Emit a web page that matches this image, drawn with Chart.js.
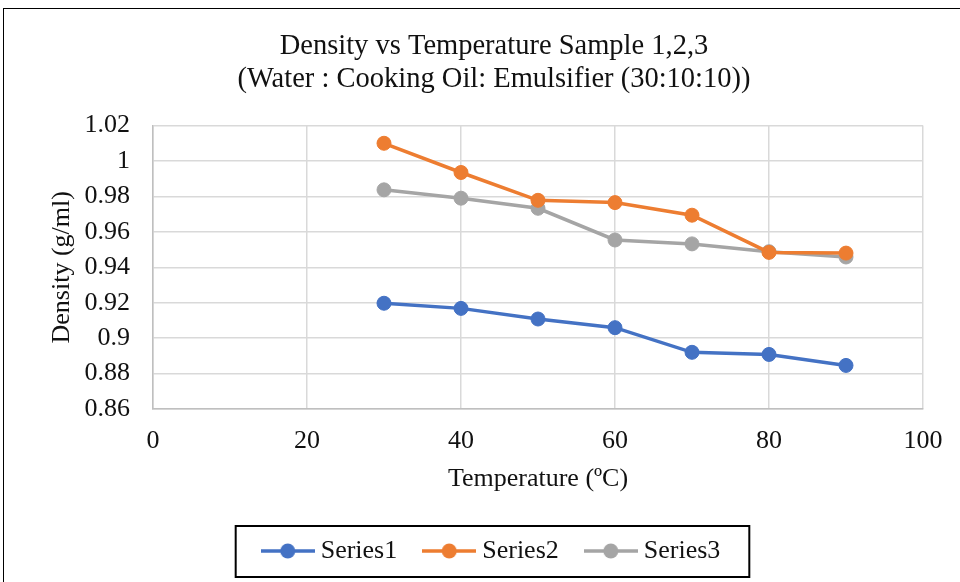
<!DOCTYPE html>
<html>
<head>
<meta charset="utf-8">
<script src="https://cdn.jsdelivr.net/npm/chart.js@4.4.0/dist/chart.umd.min.js"></script>
<style>
  html, body { margin: 0; padding: 0; background: #fff; }
  #wrap { position: relative; width: 960px; height: 582px; overflow: hidden; }
  #frame { position: absolute; left: 3px; top: 8px; width: 1000px; height: 1000px; border: 1.5px solid #000; box-sizing: border-box; }
  canvas { position: absolute; left: 0; top: 0; }
</style>
</head>
<body>
<div id="wrap">
  <div id="frame"></div>
  <canvas id="lineChart" width="960" height="582"></canvas>
</div>
<script>
// temperatures (ºC) and densities (g/ml)
const temps = [30, 40, 50, 60, 70, 80, 90];
const series1 = [0.9197, 0.9168, 0.9108, 0.9059, 0.8920, 0.8908, 0.8846];
const series2 = [1.0100, 0.9935, 0.9778, 0.9765, 0.9694, 0.9484, 0.9480];
const series3 = [0.9837, 0.9790, 0.9733, 0.9554, 0.9532, 0.9488, 0.9458];
const seriesNames = ['Series1', 'Series2', 'Series3'];
const seriesColors = ['#4472C4', '#ED7D31', '#A5A5A5'];
const xTicks = [0, 20, 40, 60, 80, 100];
const yTicks = [0.86, 0.88, 0.9, 0.92, 0.94, 0.96, 0.98, 1, 1.02];

const serif = "'Liberation Serif', 'Times New Roman', serif";
const textColor = '#111';

// little line + dot picture used as the legend symbol
function makeSymbol(color) {
  const c = document.createElement('canvas');
  c.width = 54;
  c.height = 16;
  const g = c.getContext('2d');
  g.strokeStyle = color;
  g.lineWidth = 3.5;
  g.beginPath();
  g.moveTo(0, 8);
  g.lineTo(54, 8);
  g.stroke();
  g.fillStyle = color;
  g.beginPath();
  g.arc(27, 8, 7.5, 0, 2 * Math.PI);
  g.fill();
  return c;
}
const symbols = seriesColors.map(makeSymbol);

// box round the legend
const legendFrame = {
  id: 'legendFrame',
  afterDraw(chart) {
    const boxes = chart.legend.legendHitBoxes;
    if (!boxes || !boxes.length) return;
    const first = boxes[0];
    const last = boxes[boxes.length - 1];
    const cy = first.top + first.height / 2;
    const left = first.left - 32;
    const right = last.left + last.width + 29;
    const ctx = chart.ctx;
    ctx.save();
    ctx.strokeStyle = '#000';
    ctx.lineWidth = 2;
    ctx.strokeRect(left, cy - 25, right - left, 51);
    ctx.restore();
  }
};

const allSeries = [series1, series2, series3];

const ctx = document.getElementById('lineChart').getContext('2d');
new Chart(ctx, {
  type: 'line',
  data: {
    datasets: allSeries.map((vals, i) => ({
      label: seriesNames[i],
      data: temps.map((t, j) => ({ x: t, y: vals[j] })),
      borderColor: seriesColors[i],
      backgroundColor: seriesColors[i],
      borderWidth: 3.5,
      pointRadius: 7,
      pointBorderWidth: 1,
      pointStyle: 'circle',
      tension: 0,
      fill: false
    }))
  },
  options: {
    responsive: false,
    animation: false,
    devicePixelRatio: 1,
    layout: { padding: { left: 65, right: 37, top: 30, bottom: 8 } },
    scales: {
      x: {
        type: 'linear',
        min: 0,
        max: 100,
        afterBuildTicks: s => { s.ticks = xTicks.map(v => ({ value: v })); },
        afterFit: s => { s.height = 97; },
        ticks: { font: { family: serif, size: 26 }, color: textColor, padding: 17 },
        grid: { color: '#d9d9d9', lineWidth: 1.5, drawTicks: false },
        border: { color: '#bfbfbf', width: 1.5 },
        title: {
          display: true,
          text: 'Temperature (ºC)',
          font: { family: serif, size: 26 },
          color: textColor,
          padding: { top: 0, bottom: 11 }
        }
      },
      y: {
        min: 0.86,
        max: 1.02,
        afterBuildTicks: s => { s.ticks = yTicks.map(v => ({ value: v })); },
        afterFit: s => { s.width = 88; },
        ticks: {
          font: { family: serif, size: 26 },
          color: textColor,
          padding: 23,
          callback: v => String(+v.toFixed(2))
        },
        grid: { color: '#d9d9d9', lineWidth: 1.5, drawTicks: false },
        border: { color: '#bfbfbf', width: 1.5 },
        title: {
          display: true,
          text: 'Density (g/ml)',
          font: { family: serif, size: 26 },
          color: textColor,
          padding: { top: -18, bottom: 0 }
        }
      }
    },
    plugins: {
      title: {
        display: true,
        text: ['Density vs Temperature Sample 1,2,3', '(Water : Cooking Oil: Emulsifier (30:10:10))'],
        font: { family: serif, size: 28.5, weight: 'normal', lineHeight: 1.15 },
        color: textColor,
        padding: { top: 0, bottom: 30 }
      },
      legend: {
        position: 'bottom',
        labels: {
          font: { family: serif, size: 26 },
          color: textColor,
          usePointStyle: true,
          pointStyleWidth: 40,
          padding: 32,
          generateLabels: chart => Chart.defaults.plugins.legend.labels.generateLabels(chart)
            .map((item, i) => Object.assign(item, { pointStyle: symbols[i] }))
        }
      },
      tooltip: { enabled: false }
    }
  },
  plugins: [legendFrame]
});
</script>
</body>
</html>
